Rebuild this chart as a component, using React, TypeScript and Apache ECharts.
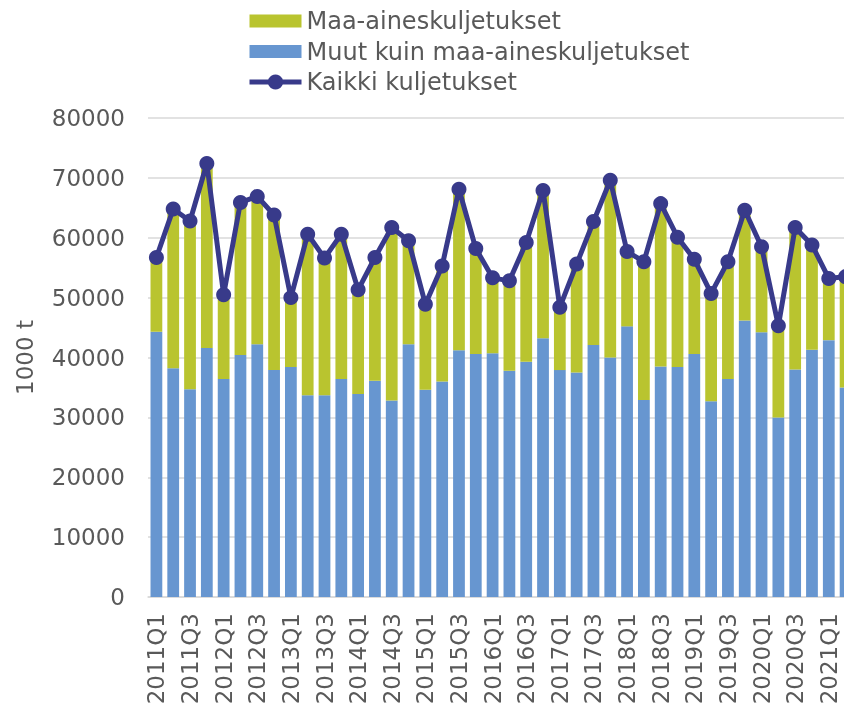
import React, { useEffect, useRef } from "react";
import * as echarts from "echarts";

const quarters = [
  "2011Q1", "2011Q2", "2011Q3", "2011Q4",
  "2012Q1", "2012Q2", "2012Q3", "2012Q4",
  "2013Q1", "2013Q2", "2013Q3", "2013Q4",
  "2014Q1", "2014Q2", "2014Q3", "2014Q4",
  "2015Q1", "2015Q2", "2015Q3", "2015Q4",
  "2016Q1", "2016Q2", "2016Q3", "2016Q4",
  "2017Q1", "2017Q2", "2017Q3", "2017Q4",
  "2018Q1", "2018Q2", "2018Q3", "2018Q4",
  "2019Q1", "2019Q2", "2019Q3", "2019Q4",
  "2020Q1", "2020Q2", "2020Q3", "2020Q4",
  "2021Q1", "2021Q2",
];

const muut = [
  44300, 38200, 34700, 41600, 36400, 40400, 42200, 37900, 38400, 33700,
  33700, 36400, 33900, 36100, 32800, 42200, 34600, 36000, 41200, 40600,
  40700, 37800, 39300, 43200, 37900, 37500, 42100, 40000, 45200, 32900,
  38500, 38400, 40600, 32700, 36400, 46200, 44200, 30000, 38000, 41300,
  42900, 35000,
];

const maa = [
  12400, 26600, 28100, 30800, 14100, 25500, 24700, 25900, 11600, 26900,
  22900, 24200, 17400, 20600, 28900, 17300, 14300, 19300, 26900, 17600,
  12600, 15000, 19900, 24700, 10500, 18100, 20600, 29600, 12500, 23100,
  27200, 21700, 15800, 18000, 19600, 18400, 14300, 15300, 23700, 17500,
  10300, 18500,
];

const kaikki = [
  56700, 64800, 62800, 72400, 50500, 65900, 66900, 63800, 50000, 60600,
  56600, 60600, 51300, 56700, 61700, 59500, 48900, 55300, 68100, 58200,
  53300, 52800, 59200, 67900, 48400, 55600, 62700, 69600, 57700, 56000,
  65700, 60100, 56400, 50700, 56000, 64600, 58500, 45300, 61700, 58800,
  53200, 53500,
];

const NAME_MAA = "Maa-aineskuljetukset";
const NAME_MUUT = "Muut kuin maa-aineskuljetukset";
const NAME_ALL = "Kaikki kuljetukset";

const FONT = "'DejaVu Sans'";
const TEXT = "#595959";
const GRID = "#D9D9D9";
const GREEN = "#B9C42F";
const BLUE = "#6796D0";
const NAVY = "#383A8A";

export default function App() {
  const ref = useRef<HTMLDivElement>(null);

  useEffect(() => {
    if (!ref.current) return;
    const chart = echarts.init(ref.current, null, { renderer: "svg" });
    const barIcon = "path://M0,0M52,19M0,3L52,3L52,16L0,16Z";
    chart.setOption({
      animation: false,
      textStyle: { fontFamily: FONT, color: TEXT },
      legend: {
        orient: "vertical",
        left: 242,
        top: 4,
        itemWidth: 52,
        itemHeight: 19,
        itemGap: 6.5,
        textStyle: { fontSize: 24, color: TEXT, fontFamily: FONT },
        data: [
          { name: NAME_MAA, icon: barIcon },
          { name: NAME_MUUT, icon: barIcon },
          { name: NAME_ALL, lineStyle: { width: 5, color: NAVY } },
        ],
      },
      grid: {
        left: 148,
        top: 118,
        bottom: 110,
        right: -10,
        containLabel: false,
        outerBoundsMode: "none",
      },
      xAxis: {
        type: "category",
        data: quarters,
        axisLine: { show: true, lineStyle: { color: GRID, width: 1.5 } },
        axisTick: { show: false },
        axisLabel: {
          interval: 1,
          rotate: 90,
          margin: 16,
          fontSize: 23,
          color: TEXT,
          fontFamily: FONT,
        },
      },
      yAxis: {
        type: "value",
        min: 0,
        max: 80000,
        interval: 10000,
        name: "1000 t",
        nameLocation: "middle",
        nameRotate: 90,
        nameGap: 112,
        nameTextStyle: { fontSize: 23, color: TEXT, fontFamily: FONT },
        axisLine: { show: false },
        axisTick: { show: false },
        splitLine: { lineStyle: { color: GRID, width: 1.5 } },
        axisLabel: {
          margin: 23,
          fontSize: 23,
          color: TEXT,
          fontFamily: FONT,
          formatter: (v: number) => String(v),
        },
      },
      series: [
        {
          name: NAME_MUUT,
          type: "bar",
          stack: "total",
          data: muut,
          barWidth: "70%",
          itemStyle: { color: BLUE },
        },
        {
          name: NAME_MAA,
          type: "bar",
          stack: "total",
          data: maa,
          barWidth: "70%",
          itemStyle: { color: GREEN },
        },
        {
          name: NAME_ALL,
          type: "line",
          data: kaikki,
          symbol: "circle",
          symbolSize: 15,
          showAllSymbol: true,
          itemStyle: { color: NAVY },
          lineStyle: { color: NAVY, width: 5 },
          z: 5,
        },
      ],
    });
    return () => chart.dispose();
  }, []);

  return (
    <div
      ref={ref}
      style={{ position: "fixed", left: 0, top: 0, width: 844, height: 707 }}
    />
  );
}
